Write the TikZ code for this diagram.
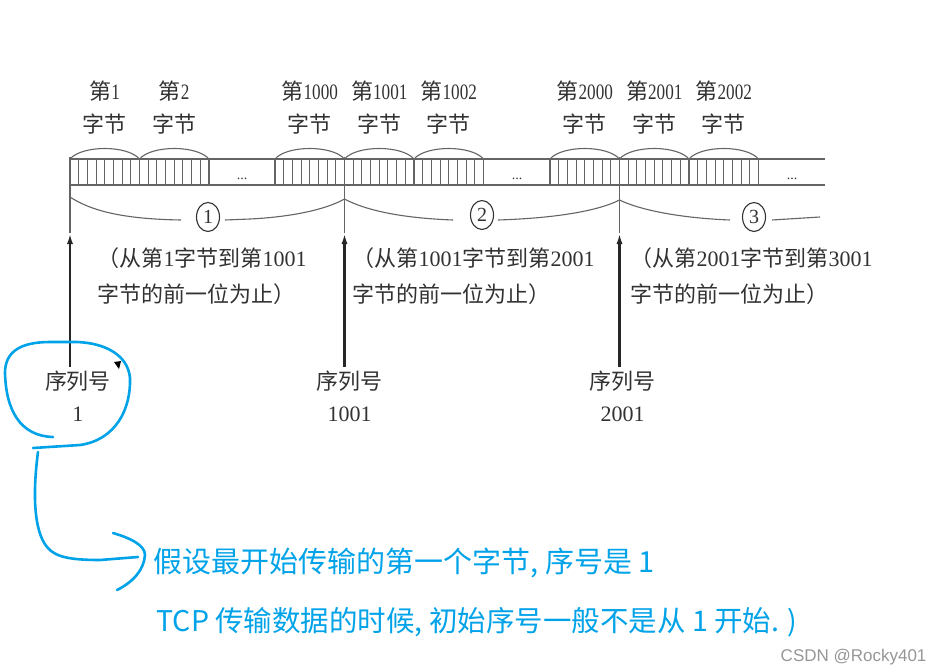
\documentclass[tikz,border=0pt]{standalone}
\usepackage{fontspec}
\setmainfont{Liberation Serif}
\setsansfont{Liberation Sans}
\newfontfamily\cjk{Noto Sans CJK SC}
\newfontfamily\estrecha[FakeStretch=0.78]{Liberation Serif}
\usepackage{xcolor}
\usepackage{tikz}
\usetikzlibrary{arrows.meta,calc,shapes.geometric}
\definecolor{LineaGris}{RGB}{100,100,100}
\definecolor{TextoGris}{RGB}{50,50,50}
\definecolor{AzulNota}{RGB}{0,162,232}
\definecolor{MarcaGris}{RGB}{150,150,150}

\tikzset{
  tira/.style={LineaGris,line width=1.6pt},
  bit/.style={LineaGris,line width=1.1pt},
  etiq/.style={text=TextoGris,align=center,font=\fontsize{22}{33}\selectfont},
  parrafo/.style={text=TextoGris,align=left,anchor=north west,font=\fontsize{22}{36}\selectfont},
  numcirc/.style={ellipse,draw=TextoGris,line width=1.1pt,minimum width=23pt,minimum height=29pt,inner sep=0pt,text=TextoGris,font=\fontsize{20}{20}\selectfont},
  flecha/.style={-{Latex[length=11pt,width=6pt]},line width=2.2pt,black!85},
  trazo/.style={AzulNota,line width=2.6pt,line cap=round},
  nota/.style={text=AzulNota,anchor=west,font=\cjk\fontsize{29}{29}\selectfont}
}

\begin{document}
\begin{tikzpicture}[x=1pt,y=-1pt,>=Latex]
  \useasboundingbox (0,0) rectangle (932,672);
  % tira de bytes
  \draw[tira] (70,159)--(825,159);
  \draw[tira] (70,185)--(825,185);
  \foreach \x in {70,139.5,275,344.5,414,550,619.5,689}{
    \draw[tira] (\x,159) rectangle ++(69.5,26);
    \foreach \k in {1,...,7}
      \draw[bit] (\x+\k*8.6875,159)--++(0,26);
    \draw[bit] (\x,159) .. controls (\x+12,145) and (\x+57.5,145) .. (\x+69.5,159);
  }
  \foreach \x/\n in {242/1,517/2,792/3}
    \node[text=TextoGris,font=\fontsize{14}{14}\selectfont,anchor=base] (pt\n) at (\x,179) {...};
  % etiquetas de bytes
  \foreach \x/\n in {104.75/1,174.25/2,309.75/1000,379.25/1001,448.75/1002,584.75/2000,654.25/2001,723.75/2002}
    \node[etiq] (b\n) at (\x,108) {{\cjk 第}{\estrecha\n}\\{\cjk 字节}};
  % llaves
  \node[numcirc] (c1) at (208,217) {1};
  \node[numcirc] (c2) at (482,215) {2};
  \node[numcirc] (c3) at (754,217) {3};
  \draw[bit] (70,197) .. controls (90,210) and (120,219) .. (181,220);
  \draw[bit] (225,220)--(250,219) .. controls (290,217) and (325,210) .. (344.5,199);
  \draw[bit] (344.5,199) .. controls (365,210) and (400,218) .. (453,220);
  \draw[bit] (498,220) .. controls (560,218) and (600,210) .. (619.5,200);
  \draw[bit] (619.5,200) .. controls (640,210) and (680,218) .. (730,220);
  \draw[bit] (772,220)--(820,217);
  % numeros de secuencia
  \foreach \x/\n/\dx in {70/1/8,344.5/1001/5,619.5/2001/3}{
    \coordinate (p\n) at (\x,233);
    \draw[tira] (\x,157)--(p\n);
    \node[etiq,font=\fontsize{22}{32}\selectfont] (s\n) at (\x+\dx,396) {{\cjk 序列号}\\\n};
    \draw[flecha] (s\n.north -| p\n)--(p\n);
  }
  \node[parrafo] (r1) at (94,244) {{\cjk （从第}1{\cjk 字节到第}1001\\{\cjk 字节的前一位为止）}};
  \node[parrafo] (r2) at (349,244) {{\cjk （从第}1001{\cjk 字节到第}2001\\{\cjk 字节的前一位为止）}};
  \node[parrafo] (r3) at (627,244) {{\cjk （从第}2001{\cjk 字节到第}3001\\{\cjk 字节的前一位为止）}};
  \fill[black] (114,362)--(121,361)--(119,369)--cycle;
  % anotacion azul
  \draw[trazo] (53,437) .. controls (20,436) and (6,410) .. (5,373)
    .. controls (5,352) and (20,342) .. (50,342) -- (77,342)
    .. controls (105,343) and (128,355) .. (130,378)
    .. controls (131,410) and (115,440) .. (80,445) -- (33,448);
  \draw[trazo] (38,452) .. controls (33,490) and (33,530) .. (47,547)
    .. controls (55,557) and (70,560) .. (100,560) -- (138,557);
  \draw[trazo] (113,533) .. controls (130,538) and (145,545) .. (145,555)
    .. controls (144,570) and (133,582) .. (117,590);
  \node[nota] (n1) at (150,563) {假设最开始传输的第一个字节, 序号是 1};
  \node[nota,font=\cjk\fontsize{28.5}{29}\selectfont] (n2) at (153,622) {TCP 传输数据的时候, 初始序号一般不是从 1 开始. )};
  \node[text=MarcaGris,anchor=east,font=\sffamily\fontsize{17}{17}\selectfont] (marca) at (930,657) {CSDN @Rocky401};
\end{tikzpicture}
\end{document}
